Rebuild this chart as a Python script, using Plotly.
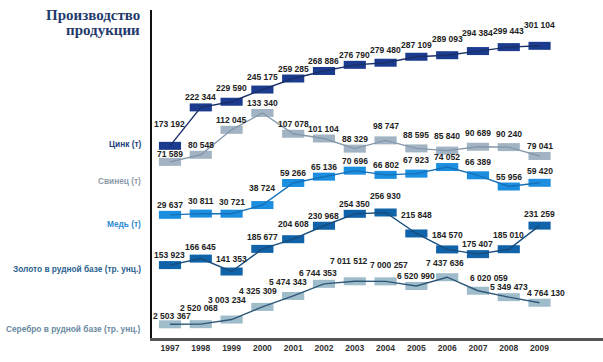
import plotly.graph_objects as go

years = [1997, 1998, 1999, 2000, 2001, 2002, 2003, 2004, 2005, 2006, 2007, 2008, 2009]
zinc = [173192, 222344, 229590, 245175, 259285, 268886, 276790, 279480, 287109, 289093, 294384, 299443, 301104]
lead = [71589, 80548, 112045, 133340, 107078, 101104, 88329, 98747, 88595, 85840, 90689, 90240, 79041]
copper = [29637, 30811, 30721, 38724, 59266, 65136, 70696, 66802, 67923, 74052, 66389, 55956, 59420]
gold = [153923, 166645, 141353, 185677, 204608, 230968, 254350, 256930, 215848, 184570, 175407, 185010, 231259]
silver = [2503367, 2520068, 3003234, 4325309, 5474343, 6744353, 7011512, 7000257, 6520990, 7437636, 6020059, 5349473, 4764130]
series_names = ["Цинк (т)", "Свинец (т)", "Медь (т)",
                "Золото в рудной базе (тр. унц.)", "Серебро в рудной базе (тр. унц.)"]
title_lines = ["Производство", "продукции"]

series = [zinc, lead, copper, gold, silver]

# ---- style ----
ranges = [[-72500, 346900], [-150700, 263300], [-84800, 220000], [11100, 653600], [1.07e6, 35.43e6]]
rect_colors = ["#1b3c8e", "#a2b4c4", "#1b8ee0", "#1062a9", "#9fbccb"]
line_colors = ["#1a2f6a", "#8598ab", "#1670b8", "#174d7c", "#2f5878"]
name_colors = ["#22407e", "#8c9aa8", "#2a8ad0", "#2a5f8e", "#6a8aa0"]
name_pos = [0.5915, 0.4787, 0.3476, 0.2104, 0.0274]   # paper y of series names
label_dy = [
    [22, 10, 14, 12.5, 10, 10, 10, 12.7, 11.7, 16.2, 18, 16, 20.8],
    [8, 10, 10, 10, 10, 10, 10, 14.4, 13.4, 14.6, 13.7, 13.1, 10],
    [10, 12.6, 11.7, 17, 10, 10, 10, 10, 13.7, 10, 13.3, 10, 11.8],
    [10, 12, 12.5, 11.9, 15.2, 10, 10, 17, 18, 14, 10, 14, 11.6],
    [8, 16, 20, 15.9, 13.9, 11, 20, 16, 10, 14.2, 13, 10, 10],
]
label_dx = [
    [0] * 13, [0] * 13, [0] * 13, [0] * 13,
    [2, -2, -5, -4, -5, -6, -6, 3, 0, -2, 11, 0, 6],
]
PLOT_H = 328
RECT_PX = 8
FONT = "Liberation Sans, Arial"


def fmt(v):
    return f"{v:,}".replace(",", " ")


fig = go.Figure()
axis_ids = ["y", "y2", "y3", "y4", "y5"]

for i, vals in enumerate(series):
    lo, hi = ranges[i]
    h = RECT_PX * (hi - lo) / PLOT_H
    fig.add_trace(go.Bar(
        x=years, y=[h] * len(vals), base=[v - h / 2 for v in vals],
        width=0.72, marker=dict(color=rect_colors[i], line=dict(width=0)),
        yaxis=axis_ids[i], hoverinfo="skip", showlegend=False))
    fig.add_trace(go.Scatter(
        x=years, y=vals, mode="lines", yaxis=axis_ids[i],
        line=dict(color=line_colors[i], width=1.4),
        hoverinfo="skip", showlegend=False, cliponaxis=False))
    for j, (yr, v) in enumerate(zip(years, vals)):
        fig.add_annotation(
            x=yr, y=v, xref="x", yref=axis_ids[i],
            text=fmt(v), showarrow=False, yanchor="middle", xanchor="center",
            yshift=label_dy[i][j], xshift=label_dx[i][j],
            font=dict(family=FONT, size=8.5, color="#222222", weight="bold"))

layout_axes = {}
for i in range(5):
    key = "yaxis" if i == 0 else f"yaxis{i+1}"
    ax = dict(range=ranges[i], showgrid=False, zeroline=False, showticklabels=False, ticks="")
    if i == 0:
        ax.update(showline=True, linecolor="#111111", linewidth=1.6)
    else:
        ax.update(overlaying="y", visible=False)
    layout_axes[key] = ax

fig.update_layout(
    width=603, height=362,
    margin=dict(l=152, r=0, t=10, b=24),
    plot_bgcolor="white", paper_bgcolor="white",
    barmode="overlay", showlegend=False, hovermode=False,
    xaxis=dict(range=[1996.416, 2011.06], tickvals=years, ticktext=[str(y) for y in years],
               showgrid=False, zeroline=False, showline=True, linecolor="#555555", linewidth=2.5,
               ticks="", tickfont=dict(family=FONT, size=8.5, color="#333333", weight="bold")),
    **layout_axes,
)

for i in range(5):
    fig.add_annotation(
        xref="paper", x=0, xanchor="right", xshift=-9,
        yref="paper", y=name_pos[i], yanchor="middle",
        text=series_names[i], showarrow=False,
        font=dict(family=FONT, size=8.3, color=name_colors[i], weight="bold"))

for k, (line, py) in enumerate(zip(title_lines, [0.9848, 0.939])):
    fig.add_annotation(
        xref="paper", x=0, xanchor="right", xshift=-10,
        yref="paper", y=py, yanchor="middle",
        text=line, showarrow=False,
        font=dict(family="Liberation Serif, Times New Roman", size=15, color="#1f3a6b", weight="bold"))

fig.write_html("out.html", config={"displayModeBar": False},
               post_script="document.body.style.margin='0';")
